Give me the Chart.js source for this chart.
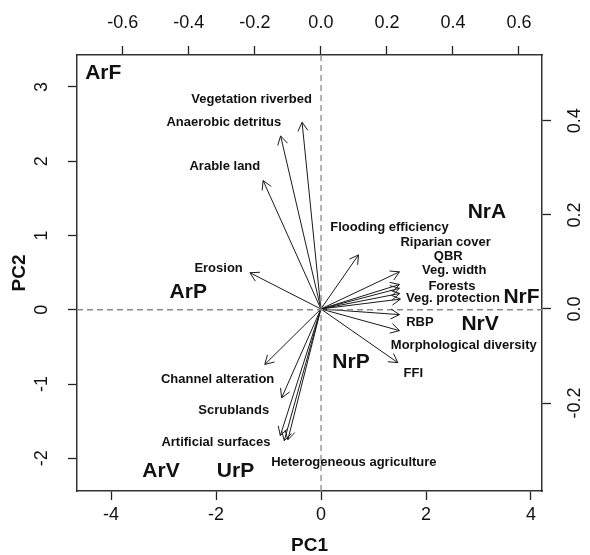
<!DOCTYPE html>
<html>
<head>
<meta charset="utf-8">
<script src="https://cdn.jsdelivr.net/npm/chart.js@4/dist/chart.umd.min.js"></script>
<style>
  body { margin: 0; background: #fff; }
  #wrap { width: 590px; height: 555px; position: relative; }
</style>
</head>
<body>
<div id="wrap"><canvas id="biplot"></canvas></div>
<script>
// scores (PC1, PC2) of the sites
var sites = ["ArF", "ArP", "NrA", "NrF", "NrV", "NrP", "ArV", "UrP"];
var sitePC1 = [-4.15, -2.53, 3.16, 3.82, 3.03, 0.57, -3.05, -1.63];
var sitePC2 = [3.18, 0.235, 1.32, 0.17, -0.19, -0.70, -2.17, -2.17];

// loadings (arrow tips) of the variables, top/right axes
var varNames = ["Vegetation riverbed", "Anaerobic detritus", "Arable land", "Erosion",
  "Flooding efficiency", "Riparian cover", "QBR", "Veg. width", "Forests", "Veg. protection",
  "RBP", "Morphological diversity", "FFI", "Channel alteration", "Scrublands",
  "Artificial surfaces", "Heterogeneous agriculture", ""];
var loadPC1 = [-0.057, -0.122, -0.175, -0.215, 0.114, 0.238, 0.238, 0.238, 0.239, 0.241,
  0.238, 0.238, 0.233, -0.170, -0.119, -0.123, -0.111, -0.100];
var loadPC2 = [0.397, 0.368, 0.273, 0.077, 0.115, 0.079, 0.052, 0.044, 0.033, 0.021,
  -0.012, -0.046, -0.114, -0.118, -0.189, -0.269, -0.280, -0.278];

// where the variable names sit (top/right axes)
var labelPC1 = [-0.210, -0.294, -0.291, -0.310, 0.208, 0.378, 0.386, 0.404, 0.397, 0.400,
  0.300, 0.433, 0.280, -0.313, -0.264, -0.318, 0.100];
var labelPC2 = [0.446, 0.396, 0.303, 0.087, 0.173, 0.142, 0.111, 0.082, 0.049, 0.022,
  -0.029, -0.077, -0.136, -0.150, -0.215, -0.283, -0.327];

// axes
var pc1Range = [-4.65, 4.21];
var pc2Range = [-2.44, 3.43];
var load1Range = [-0.739, 0.670];
var load2Range = [-0.387, 0.540];
var bottomTicks = [-4, -2, 0, 2, 4];
var leftTicks = [-2, -1, 0, 1, 2, 3];
var topTicks = [-0.6, -0.4, -0.2, 0.0, 0.2, 0.4, 0.6];
var rightTicks = [-0.2, 0.0, 0.2, 0.4];

var FONT = "'Liberation Sans', Arial, sans-serif";
var INK = "#111";

var datasets = [];

// dashed zero lines
datasets.push({
  data: [{x: pc1Range[0], y: 0}, {x: pc1Range[1], y: 0}],
  showLine: true, borderColor: "#8a8a8a", borderWidth: 1.3, borderDash: [6, 4], pointRadius: 0
});
datasets.push({
  data: [{x: 0, y: pc2Range[0]}, {x: 0, y: pc2Range[1]}],
  showLine: true, borderColor: "#8a8a8a", borderWidth: 1.3, borderDash: [6, 4], pointRadius: 0
});

// one dataset per arrow
for (let i = 0; i < loadPC1.length; i++) {
  datasets.push({
    data: [{x: 0, y: 0}, {x: loadPC1[i], y: loadPC2[i]}],
    xAxisID: "x2", yAxisID: "y2",
    showLine: true, borderColor: "#1a1a1a", borderWidth: 1, pointRadius: 0,
    arrow: true
  });
}

// variable names
datasets.push({
  data: labelPC1.map((v, i) => ({x: v, y: labelPC2[i]})),
  xAxisID: "x2", yAxisID: "y2", pointRadius: 0,
  textLabels: varNames, textFont: "bold 13px " + FONT
});

// site names
datasets.push({
  data: sitePC1.map((v, i) => ({x: v, y: sitePC2[i]})),
  pointRadius: 0,
  textLabels: sites, textFont: "bold 21px " + FONT
});

var arrowsAndText = {
  id: "arrowsAndText",
  afterDatasetsDraw(chart) {
    let ctx = chart.ctx;
    chart.data.datasets.forEach((ds, i) => {
      let meta = chart.getDatasetMeta(i);
      if (ds.arrow) {
        let p0 = meta.data[0], p1 = meta.data[1];
        let a = Math.atan2(p1.y - p0.y, p1.x - p0.x);
        let len = 10;
        ctx.save();
        ctx.strokeStyle = ds.borderColor;
        ctx.lineWidth = 1;
        ctx.beginPath();
        ctx.moveTo(p1.x - len * Math.cos(a - Math.PI / 6), p1.y - len * Math.sin(a - Math.PI / 6));
        ctx.lineTo(p1.x, p1.y);
        ctx.lineTo(p1.x - len * Math.cos(a + Math.PI / 6), p1.y - len * Math.sin(a + Math.PI / 6));
        ctx.stroke();
        ctx.restore();
      }
      if (ds.textLabels) {
        ctx.save();
        ctx.font = ds.textFont;
        ctx.fillStyle = INK;
        ctx.textAlign = "center";
        ctx.textBaseline = "middle";
        meta.data.forEach((el, j) => {
          if (ds.textLabels[j]) ctx.fillText(ds.textLabels[j], el.x, el.y);
        });
        ctx.restore();
      }
    });
  }
};

function axis(opts) {
  let base = {
    type: "linear",
    min: opts.range[0], max: opts.range[1],
    grid: {drawOnChartArea: false, drawTicks: true, tickLength: 9, tickColor: "#222", tickWidth: 1.3},
    border: {display: true, color: "#333", width: 1.5},
    afterBuildTicks: s => { s.ticks = opts.ticks.map(v => ({value: v})); },
    afterFit: opts.fit,
    ticks: {
      autoSkip: false,
      color: INK,
      font: {family: FONT, size: 18},
      padding: opts.pad,
      callback: opts.fmt
    }
  };
  if (opts.rotate) {
    base.ticks.minRotation = 90;
    base.ticks.maxRotation = 90;
    base.ticks.crossAlign = "center";
  }
  if (opts.title) {
    base.title = {display: true, text: opts.title, color: INK,
      font: {family: FONT, size: 19, weight: "bold", lineHeight: 1}, padding: opts.titlePad};
  }
  base.position = opts.position;
  return base;
}

var chart = new Chart(document.getElementById("biplot"), {
  type: "scatter",
  data: {datasets: datasets},
  options: {
    responsive: true,
    maintainAspectRatio: false,
    animation: false,
    events: [],
    layout: {padding: 0},
    plugins: {legend: {display: false}, tooltip: {enabled: false}},
    scales: {
      x: axis({position: "bottom", range: pc1Range, ticks: bottomTicks, pad: 4,
        fmt: v => String(v), fit: s => { s.height = 64; },
        title: "PC1", titlePad: {top: 0, bottom: 0}}),
      y: axis({position: "left", range: pc2Range, ticks: leftTicks, pad: 18, rotate: true,
        fmt: v => String(v), fit: s => { s.width = 77; },
        title: "PC2", titlePad: {top: 10, bottom: 0}}),
      x2: axis({position: "top", range: load1Range, ticks: topTicks, pad: 12,
        fmt: v => v.toFixed(1), fit: s => { s.height = 55; }}),
      y2: axis({position: "right", range: load2Range, ticks: rightTicks, pad: 9, rotate: true,
        fmt: v => v.toFixed(1), fit: s => { s.width = 48; }})
    }
  },
  plugins: [arrowsAndText]
});
</script>
</body>
</html>
